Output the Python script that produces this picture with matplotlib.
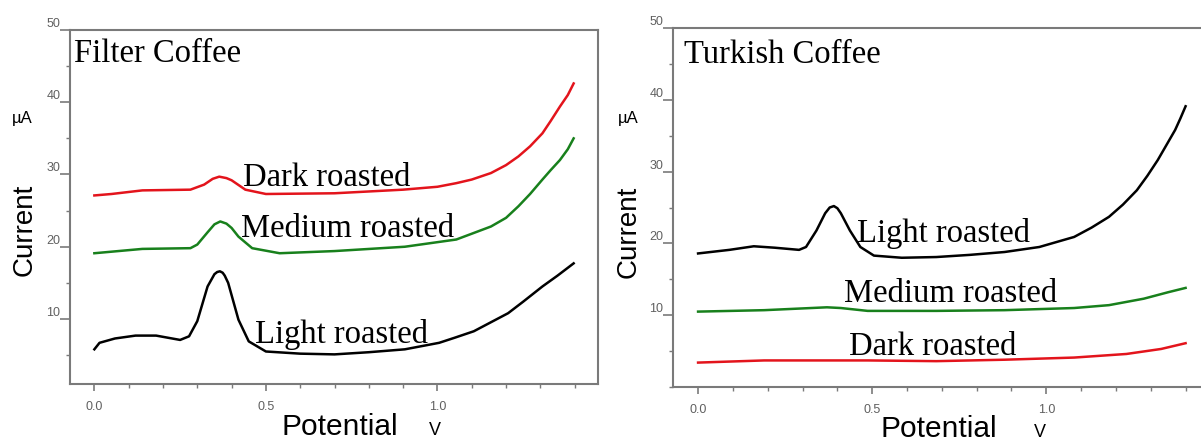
import matplotlib.pyplot as plt
from matplotlib.ticker import MultipleLocator

# Filter coffee voltammograms (potential in V, current in uA)
fc_dark_v = [0.00, 0.05, 0.14, 0.28, 0.32, 0.345, 0.364, 0.385, 0.40, 0.44, 0.50, 0.70, 0.90, 1.00, 1.055,
             1.10, 1.156, 1.20, 1.236, 1.27, 1.306, 1.33, 1.357, 1.38, 1.397]
fc_dark_i = [27.1, 27.3, 27.8, 27.9, 28.6, 29.4, 29.7, 29.5, 29.2, 27.9, 27.3, 27.4, 27.9, 28.3, 28.8,
             29.3, 30.2, 31.3, 32.5, 33.9, 35.7, 37.4, 39.4, 41.0, 42.6]

fc_med_v = [0.00, 0.14, 0.28, 0.30, 0.33, 0.35, 0.367, 0.385, 0.40, 0.42, 0.46, 0.54, 0.70, 0.905, 1.055,
            1.10, 1.156, 1.20, 1.236, 1.27, 1.306, 1.33, 1.357, 1.38, 1.397]
fc_med_i = [19.1, 19.7, 19.8, 20.3, 22.0, 23.1, 23.5, 23.2, 22.6, 21.4, 19.8, 19.1, 19.4, 20.0, 21.0,
            21.8, 22.8, 24.0, 25.6, 27.3, 29.3, 30.6, 32.0, 33.5, 35.0]

fc_light_v = [0.00, 0.015, 0.06, 0.12, 0.18, 0.25, 0.276, 0.30, 0.33, 0.35, 0.358, 0.366, 0.374, 0.38, 0.39,
              0.42, 0.45, 0.50, 0.60, 0.70, 0.80, 0.905, 1.005, 1.05, 1.106, 1.15, 1.206, 1.25, 1.306, 1.35, 1.397]
fc_light_i = [5.8, 6.7, 7.3, 7.7, 7.7, 7.1, 7.6, 9.7, 14.5, 16.2, 16.5, 16.6, 16.4, 16.0, 15.0,
              9.9, 6.9, 5.5, 5.2, 5.1, 5.4, 5.8, 6.7, 7.4, 8.3, 9.4, 10.8, 12.4, 14.5, 16.0, 17.7]

# Turkish coffee voltammograms
tc_light_v = [0.00, 0.09, 0.16, 0.22, 0.29, 0.31, 0.34, 0.365, 0.378, 0.39, 0.40, 0.41, 0.436, 0.466,
              0.505, 0.585, 0.684, 0.78, 0.88, 0.98, 1.08, 1.13, 1.18, 1.22, 1.26, 1.29, 1.32, 1.345, 1.37,
              1.385, 1.40]
tc_light_i = [18.6, 19.1, 19.6, 19.4, 19.1, 19.5, 21.8, 24.2, 25.0, 25.2, 24.9, 24.2, 21.8, 19.5,
              18.3, 18.0, 18.1, 18.4, 18.8, 19.5, 20.9, 22.2, 23.7, 25.4, 27.4, 29.4, 31.6, 33.7, 35.8,
              37.4, 39.1]

tc_med_v = [0.00, 0.19, 0.37, 0.41, 0.487, 0.684, 0.88, 1.08, 1.18, 1.28, 1.35, 1.40]
tc_med_i = [10.5, 10.7, 11.1, 11.0, 10.6, 10.6, 10.7, 11.0, 11.4, 12.3, 13.2, 13.8]

tc_dark_v = [0.00, 0.19, 0.487, 0.684, 0.88, 1.08, 1.23, 1.33, 1.40]
tc_dark_i = [3.4, 3.7, 3.7, 3.6, 3.8, 4.1, 4.6, 5.3, 6.1]

RED = "#e3141c"
GREEN = "#18801c"
BLACK = "#000000"
SPINE = "#7a7a7a"
SERIF = "Liberation Serif"
SANS = "Liberation Sans"

fig = plt.figure(figsize=(12.01, 4.41), dpi=100)
ax1 = fig.add_axes([70 / 1201, 1 - 384 / 441, 528 / 1201, 354 / 441])
ax2 = fig.add_axes([673 / 1201, 1 - 387 / 441, 530 / 1201, 359 / 441])


def style_axis(ax, xlim, ylim):
    ax.set_xlim(*xlim)
    ax.set_ylim(*ylim)
    ax.xaxis.set_minor_locator(MultipleLocator(0.1))
    ax.yaxis.set_minor_locator(MultipleLocator(5))
    ax.set_yticks([10, 20, 30, 40, 50])
    ax.set_xticks([0.0, 0.5, 1.0])
    ax.set_xticklabels(["0.0", "0.5", "1.0"])
    for s in ax.spines.values():
        s.set_color(SPINE)
        s.set_linewidth(1.5)
    ax.tick_params(axis="both", which="major", direction="out", length=5, width=1.2,
                   colors=SPINE, labelcolor="#606060", labelsize=9)
    ax.tick_params(axis="both", which="minor", direction="out", length=3, width=1.0, colors=SPINE)
    ax.tick_params(axis="y", which="major", pad=0, length=7)
    ax.tick_params(axis="x", which="major", pad=7)
    for lab in ax.get_yticklabels():
        lab.set_verticalalignment("bottom")
        lab.set_fontfamily(SANS)
    for lab in ax.get_xticklabels():
        lab.set_fontfamily(SANS)


style_axis(ax1, (-0.071, 1.468), (1.0, 50))
style_axis(ax2, (-0.072, 1.45), (0.0, 50))
ax2.spines["right"].set_visible(False)

lw = 1.8
ax1.plot(fc_dark_v, fc_dark_i, color=RED, lw=lw, solid_joinstyle="round")
ax1.plot(fc_med_v, fc_med_i, color=GREEN, lw=lw, solid_joinstyle="round")
ax1.plot(fc_light_v, fc_light_i, color=BLACK, lw=lw, solid_joinstyle="round")

ax2.plot(tc_light_v, tc_light_i, color=BLACK, lw=lw, solid_joinstyle="round")
ax2.plot(tc_med_v, tc_med_i, color=GREEN, lw=lw, solid_joinstyle="round")
ax2.plot(tc_dark_v, tc_dark_i, color=RED, lw=lw, solid_joinstyle="round")

fs = 23.5
ax1.text(0.433, 28.4, "Dark roasted", family=SERIF, fontsize=fs, va="baseline")
ax1.text(0.427, 21.35, "Medium roasted", family=SERIF, fontsize=fs, va="baseline")
ax1.text(0.468, 6.7, "Light roasted", family=SERIF, fontsize=fs, va="baseline")
ax2.text(0.457, 20.2, "Light roasted", family=SERIF, fontsize=fs, va="baseline")
ax2.text(0.42, 11.8, "Medium roasted", family=SERIF, fontsize=fs, va="baseline")
ax2.text(0.434, 4.4, "Dark roasted", family=SERIF, fontsize=fs, va="baseline")

fig.text(74 / 1201, 1 - 62 / 441, "Filter Coffee", family=SERIF, fontsize=fs, va="baseline")
fig.text(684 / 1201, 1 - 63 / 441, "Turkish Coffee", family=SERIF, fontsize=fs, va="baseline")

# axis titles
fig.text(22 / 1201, 1 - 118 / 441, "µA", family=SANS, fontsize=12, ha="center", va="center")
fig.text(628 / 1201, 1 - 119 / 441, "µA", family=SANS, fontsize=12, ha="center", va="center")
fig.text(25 / 1201, 1 - 230 / 441, "Current", family=SANS, fontsize=20, rotation=90,
         ha="center", va="center")
fig.text(629 / 1201, 1 - 232 / 441, "Current", family=SANS, fontsize=20, rotation=90,
         ha="center", va="center")
fig.text(340 / 1201, 1 - 435 / 441, "Potential", family=SANS, fontsize=21.5, ha="center", va="baseline")
fig.text(435 / 1201, 1 - 435 / 441, "V", family=SANS, fontsize=13, ha="center", va="baseline")
fig.text(939 / 1201, 1 - 437 / 441, "Potential", family=SANS, fontsize=21.5, ha="center", va="baseline")
fig.text(1040 / 1201, 1 - 437 / 441, "V", family=SANS, fontsize=13, ha="center", va="baseline")

fig.savefig("out.png", dpi=100, facecolor="white")
